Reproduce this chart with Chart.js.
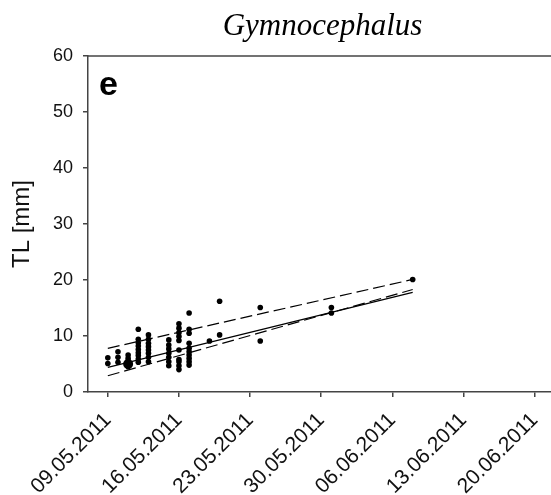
<!DOCTYPE html>
<html>
<head>
<meta charset="utf-8">
<script src="https://cdn.jsdelivr.net/npm/chart.js@4.4.0/dist/chart.umd.min.js"></script>
<style>
    html, body { margin: 0; padding: 0; background: #fff; overflow: hidden; }
</style>
</head>
<body>
<canvas id="tlChart" width="562" height="495"></canvas>
<script>
// x values are days counted from 09.05.2011
const tickDays = [0, 7, 14, 21, 28, 35, 42];
const tickLabels = ['09.05.2011', '16.05.2011', '23.05.2011', '30.05.2011', '06.06.2011', '13.06.2011', '20.06.2011'];

const sampleDays = [0, 1, 2, 3, 4, 6, 7, 8, 10, 11, 15, 22, 30];
const sampleTL = [
    [6.1, 5.1],
    [7.2, 6.2, 5.3],
    [6.6, 6.0, 5.5, 4.5],
    [11.2, 9.4, 8.8, 8.2, 7.6, 7.0, 6.5, 5.9, 5.3],
    [10.2, 9.4, 8.7, 8.1, 7.5, 6.9, 6.2, 5.4],
    [9.3, 8.4, 7.7, 6.9, 6.2, 5.4, 4.7],
    [12.2, 11.4, 10.6, 9.9, 9.2, 7.5, 5.8, 5.4, 4.7, 4.0],
    [14.1, 11.2, 10.5, 8.7, 7.8, 7.2, 6.6, 6.0, 5.4, 4.8],
    [9.1],
    [16.2, 10.2],
    [15.1, 9.1],
    [15.1, 14.1],
    [20.1]
];
// many overlapping fish on 11.05
const clusterDays = [2];
const clusterTL = [5.0];

const fitDays = [0, 30];
const fitTL = [4.4, 17.8];
const upperTL = [7.8, 20.1];
const lowerTL = [2.9, 18.3];

const points = [];
sampleDays.forEach((d, i) => sampleTL[i].forEach(v => points.push({ x: d, y: v })));

const toXY = (xs, ys) => xs.map((x, i) => ({ x: x, y: ys[i] }));

const axisColor = '#444';
Chart.defaults.font.family = "'Liberation Sans', Arial, sans-serif";
Chart.defaults.color = '#111';

const frameAndLetter = {
    id: 'frameAndLetter',
    afterDraw(chart) {
        const { ctx, chartArea } = chart;
        ctx.save();
        ctx.strokeStyle = axisColor;
        ctx.lineWidth = 1.5;
        ctx.beginPath();
        ctx.moveTo(chartArea.left, chartArea.top);
        ctx.lineTo(chartArea.right, chartArea.top);
        ctx.stroke();
        ctx.fillStyle = '#000';
        ctx.font = "bold 34px 'Liberation Sans', Arial, sans-serif";
        ctx.textBaseline = 'alphabetic';
        ctx.fillText('e', 99, 95);
        ctx.restore();
    }
};

new Chart(document.getElementById('tlChart'), {
    type: 'scatter',
    data: {
        datasets: [
            {
                label: 'TL',
                data: points,
                backgroundColor: '#000',
                borderColor: '#000',
                pointRadius: 2.8,
                borderWidth: 0
            },
            {
                label: 'cluster',
                data: toXY(clusterDays, clusterTL),
                backgroundColor: '#000',
                borderColor: '#000',
                pointRadius: 5,
                borderWidth: 0
            },
            {
                label: 'fit',
                data: toXY(fitDays, fitTL),
                showLine: true,
                pointRadius: 0,
                borderColor: '#000',
                borderWidth: 1.2
            },
            {
                label: 'upper',
                data: toXY(fitDays, upperTL),
                showLine: true,
                pointRadius: 0,
                borderColor: '#000',
                borderWidth: 1.2,
                borderDash: [12, 5]
            },
            {
                label: 'lower',
                data: toXY(fitDays, lowerTL),
                showLine: true,
                pointRadius: 0,
                borderColor: '#000',
                borderWidth: 1.2,
                borderDash: [12, 5]
            }
        ]
    },
    options: {
        responsive: false,
        animation: false,
        layout: { padding: 0 },
        plugins: {
            legend: { display: false },
            tooltip: { enabled: false },
            title: {
                display: true,
                text: 'Gymnocephalus',
                fullSize: false,
                color: '#000',
                font: { family: "'Liberation Serif', 'Times New Roman', serif", style: 'italic', weight: 'normal', size: 31 },
                padding: { top: 8, bottom: 10.8 }
            }
        },
        scales: {
            x: {
                type: 'linear',
                min: -1.95,
                max: 44.2,
                afterBuildTicks: s => { s.ticks = tickDays.map(v => ({ value: v })); },
                afterFit: s => {
                    s.height = 103;
                    s.paddingLeft = 0;
                    s.paddingRight = 0;
                },
                ticks: {
                    callback: (v, i) => tickLabels[i],
                    autoSkip: false,
                    minRotation: 45,
                    maxRotation: 45,
                    padding: 11,
                    font: { size: 21 }
                },
                grid: { drawOnChartArea: false, tickLength: 5, color: axisColor, lineWidth: 1.5 },
                border: { color: axisColor, width: 1.5 }
            },
            y: {
                min: 0,
                max: 60,
                afterFit: s => { s.width = 88; },
                ticks: { stepSize: 10, padding: 10, font: { size: 18 } },
                grid: { drawOnChartArea: false, tickLength: 5, color: axisColor, lineWidth: 1.5 },
                border: { color: axisColor, width: 1.5 },
                title: {
                    display: true,
                    text: 'TL [mm]',
                    font: { size: 24 },
                    color: '#111',
                    padding: { top: 8, bottom: 0 }
                }
            }
        }
    },
    plugins: [frameAndLetter]
});
</script>
</body>
</html>
